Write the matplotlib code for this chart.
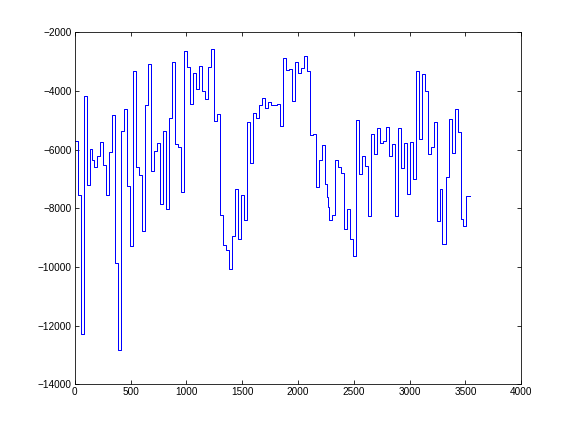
import matplotlib
matplotlib.use("Agg")
import matplotlib.pyplot as plt

# sample positions (x) and values (y)
x_pos = [0, 24, 54, 81, 107, 137, 152, 170, 197, 224, 251, 277, 304, 331, 358, 385,
         412, 439, 466, 492, 519, 546, 573, 597, 627, 653, 680, 707, 734, 761, 788,
         815, 842, 869, 896, 922, 949, 976, 1003, 1030, 1057, 1084, 1110, 1137, 1164,
         1191, 1218, 1245, 1272, 1298, 1325, 1352, 1379, 1406, 1433, 1460, 1486, 1513,
         1540, 1567, 1594, 1621, 1647, 1674, 1701, 1728, 1755, 1809, 1836, 1862, 1889,
         1916, 1943, 1970, 1997, 2024, 2050, 2077, 2104, 2131, 2158, 2185, 2212, 2238,
         2244, 2256, 2265, 2274, 2301, 2328, 2355, 2382, 2409, 2435, 2462, 2489, 2516,
         2543, 2570, 2597, 2624, 2651, 2677, 2704, 2731, 2758, 2785, 2812, 2839, 2865,
         2892, 2919, 2946, 2973, 3000, 3027, 3053, 3080, 3107, 3134, 3161, 3188, 3215,
         3241, 3268, 3294, 3321, 3348, 3375, 3402, 3429, 3456, 3482, 3509, 3539]

values = [-5716, -7552, -12283, -4177, -7187, -5990, -6350, -6600, -6229, -5751, -6503,
          -7529, -6093, -4827, -9843, -12830, -5363, -4622, -7244, -9273, -3311, -6594,
          -6845, -8760, -4485, -3072, -6708, -6058, -5785, -7860, -5363, -8008, -4918,
          -3003, -5819, -5910, -7426, -2638, -3186, -4440, -3391, -3938, -3140, -4006,
          -4280, -3186, -2570, -5032, -4793, -8236, -9239, -9433, -10060, -8931, -7324,
          -9034, -7552, -8384, -5067, -6435, -4759, -4930, -4485, -4222, -4564, -4359,
          -4462, -4427, -5200, -2878, -3288, -3254, -4337, -3015, -3391, -3220, -2798,
          -3322, -5500, -5477, -7255, -6366, -5853, -6650, -7150, -7600, -7950, -8410,
          -8236, -6366, -6583, -6777, -8692, -8008, -9034, -9615, -4998, -6811, -6229,
          -6537, -8247, -5477, -6161, -5272, -5785, -5705, -5238, -6229, -5819, -8247,
          -5272, -6628, -5785, -7495, -5751, -6982, -3322, -5637, -3414, -4006, -6161,
          -5922, -5055, -8418, -7324, -9228, -6913, -4964, -6127, -4622, -5409, -8350,
          -8589, -7586, -7586]

x_ticks = [0, 500, 1000, 1500, 2000, 2500, 3000, 3500, 4000]
y_ticks = [-14000, -12000, -10000, -8000, -6000, -4000, -2000]

plt.rcParams['font.family'] = ['Liberation Sans', 'DejaVu Sans']

fig = plt.figure(figsize=(8, 6), dpi=72)
ax = fig.add_axes([0.13, 0.11, 0.775, 0.815])

ax.step(x_pos, values, where='post', color=(0, 0, 1), linewidth=1.0)

ax.set_xlim(0, 4000)
ax.set_ylim(-14000, -2000)
ax.set_xticks(x_ticks)
ax.set_yticks(y_ticks)
ax.tick_params(direction='in', length=4, width=0.8, labelsize=10,
               top=True, right=True, pad=3)
for s in ax.spines.values():
    s.set_linewidth(0.8)

fig.savefig("out.png", dpi=72)
